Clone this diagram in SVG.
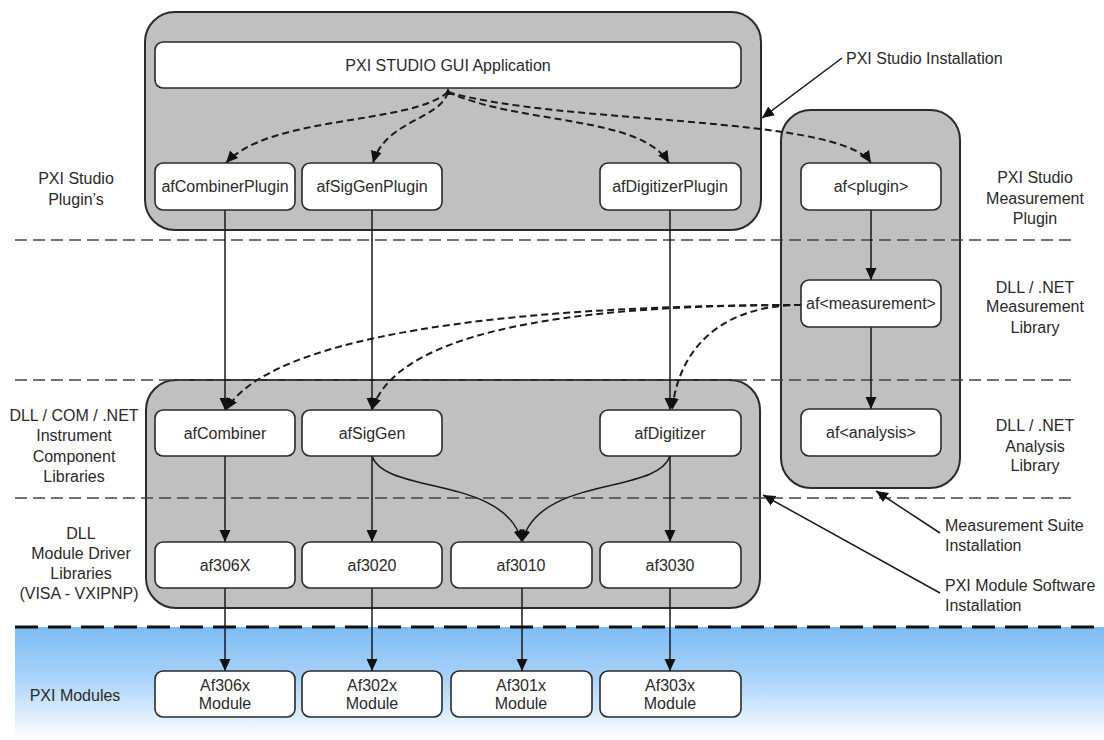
<svg xmlns="http://www.w3.org/2000/svg" width="1104" height="740" viewBox="0 0 1104 740">
<defs>
<linearGradient id="blue" x1="0" y1="0" x2="0" y2="1">
<stop offset="0" stop-color="#7dbcf5"/>
<stop offset="0.45" stop-color="#a9d3fa"/>
<stop offset="1" stop-color="#ffffff"/>
</linearGradient>
<marker id="ah" markerUnits="userSpaceOnUse" markerWidth="12" markerHeight="12" viewBox="0 0 12 12" refX="12" refY="6" orient="auto">
<path d="M0,0.5 L12,6 L0,11.5 z" fill="#111"/>
</marker>
<style>
text{font-family:"Liberation Sans",Arial,sans-serif;font-size:16px;fill:#2a2a2a;text-anchor:middle}
.lbl text{font-size:16px}
.cont{fill:#c0c0c0;stroke:#2a2a2a;stroke-width:2}
.box{fill:#fff;stroke:#2a2a2a;stroke-width:1.6}
.sep{stroke:#444;stroke-width:1.6;stroke-dasharray:12 6;fill:none}
.sepb{stroke:#111;stroke-width:3;stroke-dasharray:23 10;fill:none}
.solid{stroke:#1a1a1a;stroke-width:1.5;fill:none;marker-end:url(#ah)}
.dash{stroke:#1a1a1a;stroke-width:2;stroke-dasharray:7 4;fill:none;marker-end:url(#ah)}
.ptr{stroke:#1a1a1a;stroke-width:1.5;fill:none;marker-end:url(#ah)}
</style>
</defs>
<rect width="1104" height="740" fill="#fff"/>
<rect x="15" y="627" width="1089" height="113" fill="url(#blue)"/>

<g id="containers">
<rect id="pxi-studio-installation" class="cont" x="145" y="12" width="616" height="218" rx="30"/>
<rect id="measurement-suite-installation" class="cont" x="781" y="110" width="179" height="378" rx="30"/>
<rect id="module-software-installation" class="cont" x="146" y="380" width="614" height="228" rx="30"/>
</g>

<g id="separators">
<line class="sep" x1="15" y1="240" x2="1075" y2="240"/>
<line class="sep" x1="15" y1="380" x2="1075" y2="380"/>
<line class="sep" x1="15" y1="498" x2="1075" y2="498"/>
<line class="sepb" x1="15" y1="627" x2="1104" y2="627"/>
</g>

<g id="connectors">
<polygon points="444.5,95 451.5,95 448,88" fill="#111"/>
<path class="dash" d="M448,92 C410,125 270,115 226,163"/>
<path class="dash" d="M448,92 C440,120 385,120 373,163"/>
<path class="dash" d="M448,92 C520,125 640,115 669,163"/>
<path class="dash" d="M448,92 C560,125 840,115 871,163"/>
<path class="dash" d="M801,305 C600,305 280,320 226,410"/>
<path class="dash" d="M801,305 C620,305 400,320 372,410"/>
<path class="dash" d="M801,305 C730,305 680,340 672,410"/>
<line class="solid" x1="225" y1="210" x2="225" y2="410"/>
<line class="solid" x1="372" y1="210" x2="372" y2="410"/>
<line class="solid" x1="670" y1="210" x2="670" y2="410"/>
<line class="solid" x1="871" y1="210" x2="871" y2="280"/>
<line class="solid" x1="871" y1="327" x2="871" y2="409"/>
<line class="solid" x1="225" y1="456" x2="225" y2="542"/>
<line class="solid" x1="372" y1="456" x2="372" y2="542"/>
<line class="solid" x1="670" y1="456" x2="670" y2="542"/>
<path class="solid" d="M372,456 C385,495 505,475 522,542"/>
<path class="solid" d="M670,456 C657,495 539,475 522,542"/>
<line class="solid" x1="225" y1="588" x2="225" y2="671"/>
<line class="solid" x1="372" y1="588" x2="372" y2="671"/>
<line class="solid" x1="522" y1="588" x2="522" y2="671"/>
<line class="solid" x1="670" y1="588" x2="670" y2="671"/>
<line class="ptr" x1="842" y1="58" x2="762" y2="118"/>
<line class="ptr" x1="940" y1="533" x2="876" y2="491"/>
<line class="ptr" x1="940" y1="593" x2="763" y2="495"/>
</g>

<g id="gui-app"><rect class="box" x="155" y="42" width="586" height="46" rx="8"/><text x="448" y="71">PXI STUDIO GUI Application</text></g>
<g id="afCombinerPlugin"><rect class="box" x="155" y="163" width="140" height="47" rx="8"/><text x="225" y="192">afCombinerPlugin</text></g>
<g id="afSigGenPlugin"><rect class="box" x="302" y="163" width="140" height="47" rx="8"/><text x="372" y="192">afSigGenPlugin</text></g>
<g id="afDigitizerPlugin"><rect class="box" x="600" y="163" width="141" height="47" rx="8"/><text x="670" y="192">afDigitizerPlugin</text></g>
<g id="af-plugin"><rect class="box" x="801" y="163" width="140" height="47" rx="8"/><text x="871" y="192">af&lt;plugin&gt;</text></g>
<g id="af-measurement"><rect class="box" x="801" y="280" width="140" height="47" rx="8"/><text x="871" y="309">af&lt;measurement&gt;</text></g>
<g id="af-analysis"><rect class="box" x="801" y="409" width="140" height="47" rx="8"/><text x="871" y="438">af&lt;analysis&gt;</text></g>
<g id="afCombiner"><rect class="box" x="155" y="410" width="140" height="46" rx="8"/><text x="225" y="439">afCombiner</text></g>
<g id="afSigGen"><rect class="box" x="302" y="410" width="140" height="46" rx="8"/><text x="372" y="439">afSigGen</text></g>
<g id="afDigitizer"><rect class="box" x="600" y="410" width="141" height="46" rx="8"/><text x="670" y="439">afDigitizer</text></g>
<g id="af306X"><rect class="box" x="155" y="542" width="140" height="46" rx="8"/><text x="225" y="571">af306X</text></g>
<g id="af3020"><rect class="box" x="302" y="542" width="140" height="46" rx="8"/><text x="372" y="571">af3020</text></g>
<g id="af3010"><rect class="box" x="451" y="542" width="141" height="46" rx="8"/><text x="521" y="571">af3010</text></g>
<g id="af3030"><rect class="box" x="600" y="542" width="141" height="46" rx="8"/><text x="670" y="571">af3030</text></g>
<g id="Af306x"><rect class="box" x="155" y="671" width="140" height="46" rx="8"/><text x="225" y="691">Af306x</text><text x="225" y="709">Module</text></g>
<g id="Af302x"><rect class="box" x="302" y="671" width="140" height="46" rx="8"/><text x="372" y="691">Af302x</text><text x="372" y="709">Module</text></g>
<g id="Af301x"><rect class="box" x="451" y="671" width="141" height="46" rx="8"/><text x="521" y="691">Af301x</text><text x="521" y="709">Module</text></g>
<g id="Af303x"><rect class="box" x="600" y="671" width="141" height="46" rx="8"/><text x="670" y="691">Af303x</text><text x="670" y="709">Module</text></g>

<g id="left-labels" class="lbl">
<text x="76" y="184">PXI Studio</text>
<text x="76" y="205">Plugin’s</text>
<text x="74" y="421">DLL / COM / .NET</text>
<text x="74" y="441">Instrument</text>
<text x="74" y="462">Component</text>
<text x="74" y="482">Libraries</text>
<text x="81" y="539">DLL</text>
<text x="81" y="559">Module Driver</text>
<text x="81" y="579">Libraries</text>
<text x="79" y="599">(VISA - VXIPNP)</text>
<text x="75" y="701">PXI Modules</text>
</g>
<g id="right-labels" class="lbl">
<text x="1035" y="183">PXI Studio</text>
<text x="1035" y="204">Measurement</text>
<text x="1035" y="224">Plugin</text>
<text x="1035" y="293">DLL / .NET</text>
<text x="1035" y="312">Measurement</text>
<text x="1035" y="333">Library</text>
<text x="1035" y="431">DLL / .NET</text>
<text x="1035" y="452">Analysis</text>
<text x="1035" y="471">Library</text>
</g>
<g id="install-labels" class="lbl">
<text x="846" y="64" style="text-anchor:start">PXI Studio Installation</text>
<text x="945" y="531" style="text-anchor:start">Measurement Suite</text>
<text x="945" y="551" style="text-anchor:start">Installation</text>
<text x="945" y="591" style="text-anchor:start">PXI Module Software</text>
<text x="945" y="611" style="text-anchor:start">Installation</text>
</g>
</svg>
